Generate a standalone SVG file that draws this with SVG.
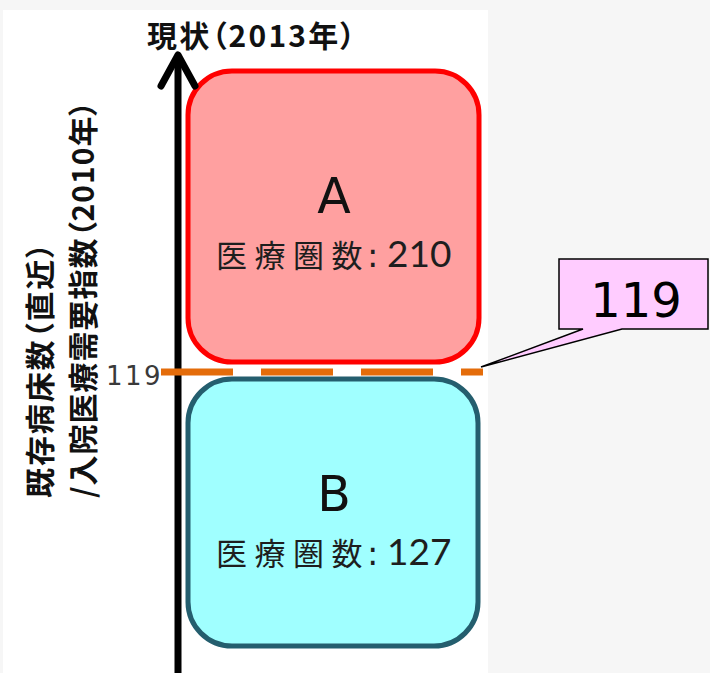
<svg xmlns="http://www.w3.org/2000/svg" width="710" height="673" viewBox="0 0 710 673">
<style>
.jp{font-family:"Noto Sans CJK JP","Noto Sans CJK SC",sans-serif;font-feature-settings:"palt";}
.bold{font-weight:bold;fill:#111;}
.big{font-family:"DejaVu Sans","Noto Sans",sans-serif;font-size:49px;fill:#111;text-anchor:middle;}
.lbl{font-family:"Noto Sans CJK JP",sans-serif;font-size:31px;fill:#1e1e1e;}
.num{font-family:Lato,"Liberation Sans",sans-serif;font-size:37px;}
.col{font-family:"DejaVu Sans",sans-serif;font-size:34px;}
</style>
<rect x="0" y="0" width="710" height="673" fill="#f6f6f6"/>
<rect x="3" y="10" width="485" height="663" fill="#ffffff"/>

<g id="title">
<text class="jp bold" x="147" y="47" font-size="30" letter-spacing="2.2">現状（2013年）</text>
</g>

<g id="axis-label">
<text class="jp bold" font-size="30" letter-spacing="1.9" transform="translate(51,498) rotate(-90)">既存病床数（直近）</text>
<text class="jp bold" font-size="30" letter-spacing="1" transform="translate(94,498) rotate(-90)">/入院医療需要指数（2010年）</text>
</g>

<g id="nodeA">
<rect x="188" y="71" width="291" height="291" rx="44" ry="44" fill="#ffa0a0" stroke="#ff0000" stroke-width="5"/>
<text class="big" x="334" y="213">A</text>
<text class="lbl" y="267"><tspan x="216 254.5 293 331.5">医療圏数</tspan><tspan x="367" class="col">:</tspan><tspan x="387" class="num">210</tspan></text>
</g>

<g id="nodeB">
<rect x="188" y="379" width="290" height="267" rx="44" ry="44" fill="#a0ffff" stroke="#245e6e" stroke-width="5"/>
<text class="big" x="334" y="511">B</text>
<text class="lbl" y="565"><tspan x="216 254.5 293 331.5">医療圏数</tspan><tspan x="367" class="col">:</tspan><tspan x="387" class="num">127</tspan></text>
</g>

<g id="connectors">
<line x1="178" y1="58" x2="178" y2="673" stroke="#000" stroke-width="7"/>
<polyline points="161,86 178,55 195,86" fill="none" stroke="#000" stroke-width="7" stroke-linecap="round" stroke-linejoin="round"/>
<line x1="161" y1="372" x2="483" y2="372" stroke="#e46c0a" stroke-width="7" stroke-dasharray="72 28"/>
</g>

<g id="threshold-label">
<text x="106" y="385" font-family="DejaVu Sans,sans-serif" font-size="26" letter-spacing="2.5" fill="#3a3a3a">119</text>
</g>

<g id="callout">
<path d="M559,259 H708 V329 H622 L481,367 L583,329 H559 Z" fill="#ffccff" stroke="#000" stroke-width="1.5" stroke-linejoin="miter"/>
<text x="636" y="317" font-family="DejaVu Sans,sans-serif" font-size="48" text-anchor="middle" fill="#000">119</text>
</g>
</svg>
